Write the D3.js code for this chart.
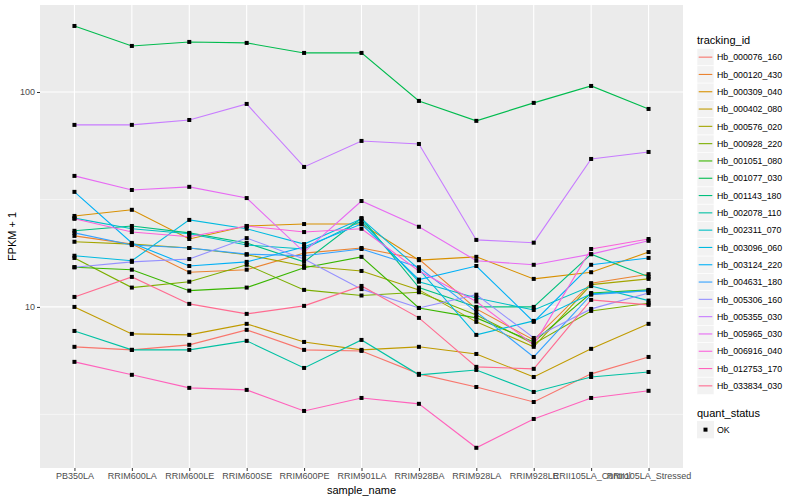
<!DOCTYPE html>
<html>
<head>
<meta charset="utf-8">
<script src="https://cdn.jsdelivr.net/npm/d3@7"></script>
<style>
  body { margin: 0; background: #fff; }
  text { font-family: "Liberation Sans", Arial, sans-serif; }
</style>
</head>
<body>
<div id="chart"></div>
<script>
// samples on the x axis
var samples = ["PB350LA", "RRIM600LA", "RRIM600LE", "RRIM600SE", "RRIM600PE", "RRIM901LA",
  "RRIM928BA", "RRIM928LA", "RRIM928LE", "RRII105LA_Control", "RRII105LA_Stressed"];

var trackingIds = ["Hb_000076_160", "Hb_000120_430", "Hb_000309_040", "Hb_000402_080", "Hb_000576_020",
  "Hb_000928_220", "Hb_001051_080", "Hb_001077_030", "Hb_001143_180", "Hb_002078_110",
  "Hb_002311_070", "Hb_003096_060", "Hb_003124_220", "Hb_004631_180", "Hb_005306_160",
  "Hb_005355_030", "Hb_005965_030", "Hb_006916_040", "Hb_012753_170", "Hb_033834_030"];

// FPKM + 1, one array per tracking id
var hb_000076_160 = [6.52, 6.31, 6.66, 7.82, 6.31, 6.24, 4.88, 4.24, 3.61, 4.88, 5.85];
var hb_000120_430 = [21.4, 19.6, 14.5, 14.9, 17.8, 18.8, 16.7, 9.79, 7.02, 12.9, 14.2];
var hb_000309_040 = [26.5, 28.3, 20.7, 23.8, 24.3, 24.3, 16.5, 17.1, 13.5, 14.5, 18.0];
var hb_000402_080 = [10.0, 7.49, 7.41, 8.34, 6.87, 6.31, 6.52, 6.04, 4.72, 6.38, 8.34];
var hb_000576_020 = [20.1, 19.6, 18.8, 17.5, 15.5, 14.7, 12.0, 8.52, 6.52, 12.7, 13.5];
var hb_000928_220 = [16.9, 12.3, 13.1, 15.7, 12.0, 11.3, 11.7, 9.18, 6.73, 9.58, 10.4];
var hb_001051_080 = [15.3, 14.9, 11.9, 12.3, 15.2, 17.1, 9.89, 8.89, 6.87, 11.6, 12.0];
var hb_001077_030 = [202.9, 163.8, 171.0, 169.2, 152.0, 152.0, 90.9, 73.4, 89.0, 106.7, 83.4];
var hb_001143_180 = [22.6, 23.8, 22.1, 19.85, 16.2, 25.9, 12.3, 10.0, 10.0, 17.6, 13.8];
var hb_002078_110 = [7.73, 6.31, 6.31, 6.95, 5.20, 7.02, 4.83, 5.09, 4.02, 4.72, 4.98];
var hb_002311_070 = [25.9, 23.1, 21.9, 19.4, 18.6, 25.1, 13.1, 11.0, 9.68, 12.5, 10.7];
var hb_003096_060 = [17.3, 16.4, 25.4, 23.1, 19.6, 25.7, 15.0, 7.41, 8.61, 11.5, 11.9];
var hb_003124_220 = [34.3, 19.85, 15.5, 16.2, 19.0, 24.3, 13.4, 15.5, 8.52, 15.7, 16.9];
var hb_004631_180 = [22.1, 19.4, 18.8, 17.6, 17.3, 18.6, 15.3, 9.48, 5.85, 11.4, 11.9];
var hb_005306_160 = [15.3, 16.2, 16.7, 20.9, 16.7, 12.1, 9.89, 11.4, 7.17, 9.79, 11.6];
var hb_005355_030 = [70.3, 70.3, 74.1, 88.0, 44.8, 59.2, 57.3, 20.5, 19.9, 48.8, 52.6];
var hb_005965_030 = [40.7, 35.0, 36.2, 32.1, 18.0, 31.1, 23.6, 16.4, 15.7, 17.6, 20.3];
var hb_006916_040 = [25.7, 22.3, 21.2, 23.8, 22.3, 23.1, 14.7, 10.6, 6.66, 18.6, 20.7];
var hb_012753_170 = [5.55, 4.83, 4.20, 4.11, 3.28, 3.77, 3.54, 2.21, 3.01, 3.77, 4.07];
var hb_033834_030 = [11.13, 13.79, 10.33, 9.28, 10.11, 12.52, 8.89, 5.26, 5.15, 10.78, 10.22];

var yTicks = [10, 100];
var yMinor = [3.162, 31.62];
var quantStatus = ["OK"];

var allValues = [hb_000076_160, hb_000120_430, hb_000309_040, hb_000402_080, hb_000576_020,
  hb_000928_220, hb_001051_080, hb_001077_030, hb_001143_180, hb_002078_110,
  hb_002311_070, hb_003096_060, hb_003124_220, hb_004631_180, hb_005306_160,
  hb_005355_030, hb_005965_030, hb_006916_040, hb_012753_170, hb_033834_030];

var series = trackingIds.map(function(id, i) {
  return { id: id, values: allValues[i].map(function(v, j) { return { sample: samples[j], v: v }; }) };
});

// ggplot-like hue palette
var colors = ["#F8766D", "#EA8331", "#D89000", "#C09B00", "#A3A500", "#7CAE00", "#39B600", "#00BB4E",
  "#00BF7D", "#00C1A3", "#00BFC4", "#00BAE0", "#00B0F6", "#35A2FF", "#9590FF", "#C77CFF",
  "#E76BF3", "#FA62DB", "#FF62BC", "#FF6C91"];

var svgWidth = 800, svgHeight = 500;
var panel = {left: 40, top: 5, right: 683, bottom: 468};

var svg = d3.select("#chart").append("svg")
  .attr("width", svgWidth)
  .attr("height", svgHeight);

var x = d3.scalePoint()
  .domain(samples)
  .range([panel.left, panel.right])
  .padding(0.6);

var y = d3.scaleLog()
  .domain([1.78, 254])
  .range([panel.bottom, panel.top]);

var color = d3.scaleOrdinal().domain(trackingIds).range(colors);

// panel background
svg.append("rect")
  .attr("x", panel.left).attr("y", panel.top)
  .attr("width", panel.right - panel.left)
  .attr("height", panel.bottom - panel.top)
  .attr("fill", "#EBEBEB");

// grid
svg.selectAll(".minor").data(yMinor).enter().append("line")
  .attr("x1", panel.left).attr("x2", panel.right)
  .attr("y1", d => y(d)).attr("y2", d => y(d))
  .attr("stroke", "#fff").attr("stroke-width", 0.55);

svg.selectAll(".major").data(yTicks).enter().append("line")
  .attr("x1", panel.left).attr("x2", panel.right)
  .attr("y1", d => y(d)).attr("y2", d => y(d))
  .attr("stroke", "#fff").attr("stroke-width", 1.1);

svg.selectAll(".vgrid").data(samples).enter().append("line")
  .attr("x1", d => x(d)).attr("x2", d => x(d))
  .attr("y1", panel.top).attr("y2", panel.bottom)
  .attr("stroke", "#fff").attr("stroke-width", 1.1);

// lines
var line = d3.line()
  .x(d => x(d.sample))
  .y(d => y(d.v));

svg.selectAll(".series").data(series).enter().append("path")
  .attr("d", d => line(d.values))
  .attr("fill", "none")
  .attr("stroke", d => color(d.id))
  .attr("stroke-width", 1.1);

// points
series.forEach(function(s) {
  svg.selectAll(null).data(s.values).enter().append("rect")
    .attr("x", d => x(d.sample) - 2)
    .attr("y", d => y(d.v) - 2)
    .attr("width", 4).attr("height", 4)
    .attr("fill", "#000");
});

// y axis
var yAxis = svg.append("g")
  .attr("transform", "translate(" + panel.left + ",0)")
  .call(d3.axisLeft(y).tickValues(yTicks).tickFormat(d3.format("d")).tickSize(3).tickPadding(2));
yAxis.select(".domain").remove();
yAxis.selectAll("line").attr("stroke", "#333");
yAxis.selectAll("text").attr("fill", "#4D4D4D").style("font-size", "9px");

// x axis
var xAxis = svg.append("g")
  .attr("transform", "translate(0," + panel.bottom + ")")
  .call(d3.axisBottom(x).tickSize(3).tickPadding(2));
xAxis.select(".domain").remove();
xAxis.selectAll("line").attr("stroke", "#333");
xAxis.selectAll("text").attr("fill", "#4D4D4D").style("font-size", "9px");

// axis titles
svg.append("text")
  .attr("x", (panel.left + panel.right) / 2).attr("y", 494)
  .attr("text-anchor", "middle")
  .style("font-size", "11px")
  .text("sample_name");

svg.append("text")
  .attr("transform", "translate(16," + ((panel.top + panel.bottom) / 2) + ") rotate(-90)")
  .attr("text-anchor", "middle")
  .style("font-size", "11px")
  .text("FPKM + 1");

// legend: tracking_id
var legend = svg.append("g").attr("transform", "translate(697,0)");
legend.append("text")
  .attr("x", 0).attr("y", 44)
  .style("font-size", "11px")
  .text("tracking_id");

var keyH = 17.3;
var keys = legend.selectAll(".key").data(trackingIds).enter().append("g")
  .attr("transform", (d, i) => "translate(0," + (48.5 + i * keyH) + ")");
keys.append("rect")
  .attr("width", 17).attr("height", keyH)
  .attr("fill", "#F2F2F2").attr("stroke", "#fff").attr("stroke-width", 0.6);
keys.append("line")
  .attr("x1", 1.7).attr("x2", 15.3)
  .attr("y1", keyH / 2).attr("y2", keyH / 2)
  .attr("stroke", d => color(d)).attr("stroke-width", 1.1);
keys.append("text")
  .attr("x", 20).attr("y", keyH / 2 + 3.2)
  .style("font-size", "8.8px")
  .text(d => d);

// legend: quant_status
legend.append("text")
  .attr("x", 0).attr("y", 417)
  .style("font-size", "11px")
  .text("quant_status");

var qkeys = legend.selectAll(".qkey").data(quantStatus).enter().append("g")
  .attr("transform", "translate(0,421)");
qkeys.append("rect")
  .attr("width", 17).attr("height", keyH)
  .attr("fill", "#F2F2F2");
qkeys.append("rect")
  .attr("x", 6.5).attr("y", keyH / 2 - 2).attr("width", 4).attr("height", 4)
  .attr("fill", "#000");
qkeys.append("text")
  .attr("x", 20).attr("y", keyH / 2 + 3.2)
  .style("font-size", "8.8px")
  .text(d => d);
</script>
</body>
</html>
